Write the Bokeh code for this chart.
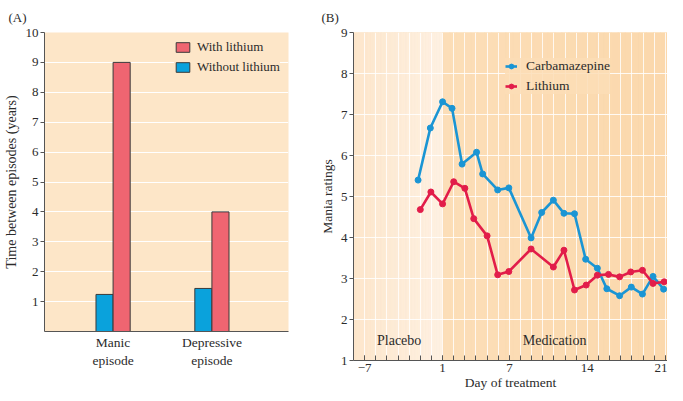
import numpy as np
from bokeh.plotting import figure
from bokeh.layouts import row
from bokeh.models import FixedTicker, Legend, LegendItem, ColumnDataSource, Range1d
from bokeh.core.properties import value
from bokeh.embed import file_html
from bokeh.resources import INLINE

# ---------------- data ----------------
# Panel A
episode_labels = ["Manic\nepisode", "Depressive\nepisode"]
without_lithium = [1.24, 1.44]
with_lithium = [9.0, 4.0]
a_yticks = [1, 2, 3, 4, 5, 6, 7, 8, 9, 10]

# Panel B (x = position on day axis; day 1 at 1, day -7 at -6)
carb_day = [-1.2, -0.1, 1.0, 1.85, 2.75, 4.05, 4.6, 5.95, 6.95, 8.95, 9.9,
            10.95, 11.9, 12.85, 13.85, 14.9, 15.75, 16.9, 17.95, 18.95, 19.9, 20.85]
carb_rating = [5.40, 6.67, 7.31, 7.15, 5.79, 6.08, 5.55, 5.16, 5.21, 3.99, 4.61,
               4.91, 4.59, 4.58, 3.47, 3.25, 2.75, 2.58, 2.79, 2.62, 3.05, 2.74]
lith_day = [-1.0, -0.05, 1.0, 2.0, 3.0, 3.8, 5.0, 5.95, 6.95, 8.95, 10.95,
            11.9, 12.85, 13.9, 14.9, 15.9, 16.9, 17.9, 18.95, 19.9, 20.9]
lith_rating = [4.68, 5.11, 4.82, 5.36, 5.20, 4.46, 4.04, 3.09, 3.17, 3.72, 3.28,
               3.69, 2.72, 2.84, 3.08, 3.10, 3.04, 3.16, 3.20, 2.88, 2.92]
day_tick_pos = [-6, 1, 7, 14, 21]
day_tick_labels = ["\u22127", "1", "7", "14", "21"]
b_yticks = [1, 2, 3, 4, 5, 6, 7, 8, 9]
phase_labels = ["Placebo", "Medication"]

# ---------------- styles ----------------
FONT = "Liberation Serif"
TXT = "#2b2b2b"
AXC = "#555555"
BG_A = "#FDE6C8"
RED = "#EF6571"
BLUE = "#0AA2DC"
EDGE = "#3a3a3a"
MED = "#FCDDB6"
LINE_BLUE = "#1A95D4"
LINE_RED = "#E21D4A"
FH_A = 299
FH_B = 328


def style_axes(p):
    for ax in (p.xaxis[0], p.yaxis[0]):
        ax.axis_line_color = AXC
        ax.major_tick_line_color = AXC
        ax.minor_tick_line_color = AXC
        ax.major_label_text_font = FONT
        ax.major_label_text_font_size = "13px"
        ax.major_label_text_color = TXT
        ax.axis_label_text_font = FONT
        ax.axis_label_text_font_size = "13.5px"
        ax.axis_label_text_font_style = "normal"
        ax.axis_label_text_color = TXT
    p.title.text_font = FONT
    p.title.text_font_size = "13px"
    p.title.text_font_style = "normal"
    p.title.text_color = TXT
    p.title.align = "left"
    p.title.standoff = 15


# ---------------- Panel A ----------------
group_x = [1, 2]
bw = 0.173
src_a = ColumnDataSource(dict(
    x_wo=[g - bw / 2 for g in group_x],
    x_w=[g + bw / 2 for g in group_x],
    wo=without_lithium,
    w=with_lithium,
))

pa = figure(width=316, frame_height=FH_A, x_range=Range1d(0.306, 2.775),
            y_range=Range1d(0, 10), output_backend="svg", toolbar_location=None,
            min_border_left=36, min_border_right=28, min_border_top=5, min_border_bottom=0,
            background_fill_color=BG_A, border_fill_color="white", outline_line_color=None,
            title="(A)")
r_wo = pa.vbar(x="x_wo", top="wo", width=bw, source=src_a, fill_color=BLUE,
               line_color=EDGE, line_width=1)
r_w = pa.vbar(x="x_w", top="w", width=bw, source=src_a, fill_color=RED,
              line_color=EDGE, line_width=1)
style_axes(pa)
pa.title.offset = -36
pa.xaxis.ticker = FixedTicker(ticks=group_x)
pa.xaxis.major_label_overrides = {g: lab for g, lab in zip(group_x, episode_labels)}
pa.xaxis.major_tick_out = 0
pa.xaxis.major_tick_in = 0
pa.xaxis.minor_tick_out = 0
pa.xaxis.major_label_standoff = 3
pa.xaxis.major_label_text_font_size = "13.5px"
pa.yaxis.ticker = FixedTicker(ticks=a_yticks)
pa.yaxis.major_tick_out = 4
pa.yaxis.major_tick_in = 0
pa.yaxis.minor_tick_out = 0
pa.yaxis.major_label_standoff = 2
pa.yaxis.axis_label = "Time between episodes (years)"
pa.yaxis.axis_label_text_font_size = "14px"
pa.yaxis.axis_label_standoff = 4
pa.xgrid.visible = False
pa.ygrid.ticker = FixedTicker(ticks=a_yticks[:-1])
pa.ygrid.grid_line_color = "white"
pa.ygrid.grid_line_width = 1.2

leg_a = Legend(items=[LegendItem(label="With lithium", renderers=[r_w]),
                      LegendItem(label="Without lithium", renderers=[r_wo])],
               location=(130, FH_A - 43), glyph_width=17, glyph_height=12, label_height=14,
               spacing=4, padding=2, label_standoff=6, margin=0,
               background_fill_color=BG_A, border_line_color=None,
               label_text_font=FONT, label_text_font_size="13px", label_text_color=TXT)
pa.add_layout(leg_a)

# ---------------- Panel B ----------------
pb = figure(width=351, frame_height=FH_B, x_range=Range1d(-7, 21.2),
            y_range=Range1d(1, 9), output_backend="svg", toolbar_location=None,
            min_border_left=30, min_border_right=0, min_border_top=5, min_border_bottom=0,
            background_fill_color=MED, border_fill_color="white", outline_line_color=None,
            title="(B)")


def mix(c1, c2, t):
    a = np.array([int(c1[i:i + 2], 16) for i in (1, 3, 5)], float)
    b = np.array([int(c2[i:i + 2], 16) for i in (1, 3, 5)], float)
    c = (a + (b - a) * t).round().astype(int)
    return "#%02x%02x%02x" % tuple(c)


# placebo (light gradient) and medication backgrounds
n = 32
edges = np.linspace(-7, 1, n + 1)
cols = [mix("#FDE6CC", "#FEF1E2", (i + 0.5) / n) for i in range(n)]
pb.quad(left=edges[:-1], right=edges[1:], bottom=1, top=9, fill_color=cols,
        line_color=cols, line_width=0.6, level="image")
edges2 = np.linspace(1, 21.2, n + 1)
cols2 = [mix("#FCDEB8", "#FBD8AC", (i + 0.5) / n) for i in range(n)]
pb.quad(left=edges2[:-1], right=edges2[1:], bottom=1, top=9, fill_color=cols2,
        line_color=cols2, line_width=0.6, level="image")

l_c = pb.line(carb_day, carb_rating, line_color=LINE_BLUE, line_width=2.6)
s_c = pb.scatter(carb_day, carb_rating, size=6, fill_color=LINE_BLUE, line_color=LINE_BLUE)
l_l = pb.line(lith_day, lith_rating, line_color=LINE_RED, line_width=2.6)
s_l = pb.scatter(lith_day, lith_rating, size=6, fill_color=LINE_RED, line_color=LINE_RED)

pb.text(x=[-2.9, 11.06], y=[1.5, 1.5], text=phase_labels, text_font=value(FONT),
        text_font_size="14px", text_align="center", text_baseline="middle", text_color=TXT)

style_axes(pb)
pb.title.offset = -32
pb.xaxis.ticker = FixedTicker(ticks=day_tick_pos, minor_ticks=list(range(-6, 22)))
pb.xaxis.major_label_overrides = {t: lab for t, lab in zip(day_tick_pos, day_tick_labels)}
pb.xaxis.major_tick_in = 5
pb.xaxis.major_tick_out = 0
pb.xaxis.minor_tick_in = 5
pb.xaxis.minor_tick_out = 0
pb.xaxis.major_label_standoff = 3
pb.xaxis.axis_label = "Day of treatment"
pb.xaxis.axis_label_standoff = 0
pb.yaxis.ticker = FixedTicker(ticks=b_yticks)
pb.yaxis.major_tick_out = 4
pb.yaxis.major_tick_in = 0
pb.yaxis.minor_tick_out = 0
pb.yaxis.major_label_standoff = 2
pb.yaxis.axis_label = "Mania ratings"
pb.yaxis.axis_label_standoff = 3
pb.xgrid.ticker = FixedTicker(ticks=list(range(-6, 22)))
pb.xgrid.grid_line_color = "white"
pb.xgrid.grid_line_alpha = 0.8
pb.xgrid.grid_line_width = 1
pb.ygrid.ticker = FixedTicker(ticks=b_yticks)
pb.ygrid.grid_line_color = "white"
pb.ygrid.grid_line_alpha = 0.85
pb.ygrid.grid_line_width = 1.2

leg_b = Legend(items=[LegendItem(label="Carbamazepine", renderers=[l_c, s_c]),
                      LegendItem(label="Lithium", renderers=[l_l, s_l])],
               location=(152, FH_B - 62), glyph_width=12, glyph_height=14, label_height=14,
               spacing=4, padding=2, label_standoff=9, margin=0,
               background_fill_color=MED, background_fill_alpha=0.85, border_line_color=None,
               label_text_font=FONT, label_text_font_size="13.5px", label_text_color=TXT)
pb.add_layout(leg_b)

layout = row(pa, pb, spacing=0)
open("out.html", "w").write(file_html(layout, INLINE))
